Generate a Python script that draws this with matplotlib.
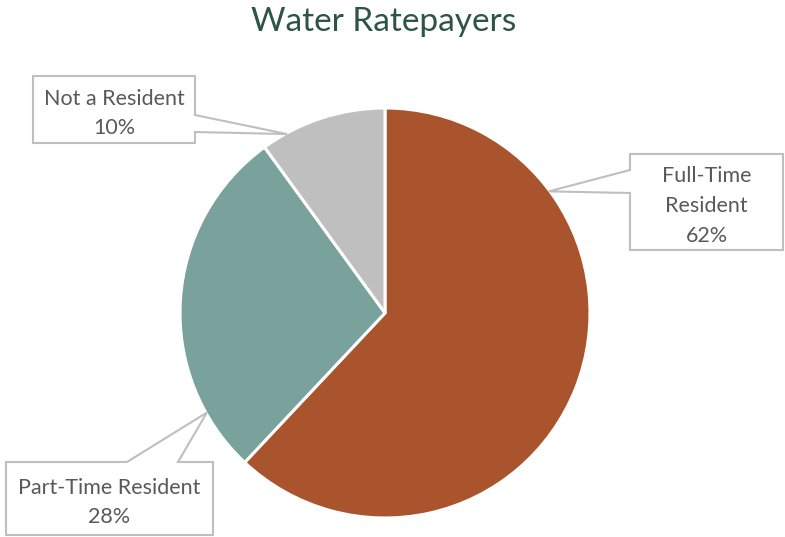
import numpy as np
import matplotlib
matplotlib.use("Agg")
import matplotlib.pyplot as plt
from matplotlib.patches import Polygon

plt.rcParams['font.family'] = ['Lato', 'DejaVu Sans']

# Data
categories = ["Full-Time\nResident", "Part-Time Resident", "Not a Resident"]
values = [62, 28, 10]
colors = ["#A9542D", "#79A29C", "#BFBFBF"]
title = "Water Ratepayers"

W, H = 785, 537
fig = plt.figure(figsize=(W / 100, H / 100), dpi=100)
ax = fig.add_axes([0, 0, 1, 1])

cx, cy, R = 385, H - 313, 205
wedges, _ = ax.pie(values, colors=colors, startangle=90, counterclock=False,
                   center=(cx, cy), radius=R, frame=True,
                   wedgeprops=dict(edgecolor="white", linewidth=2.2))
ax.set_xlim(0, W)
ax.set_ylim(0, H)
ax.set_aspect("equal")
ax.axis("off")

text_color = "#595959"
border = "#BFBFBF"

# callout layout: (box x0, y0 top, x1, y1 bottom) in top-down pixels,
# pointer side, pointer base span along that side, anchor angle on the rim
callouts = [
    dict(box=(630, 154, 783, 250), side="left", base=(170, 193), angle=36.6),
    dict(box=(6, 462, 213, 535), side="top", base=(127, 178), angle=209.2),
    dict(box=(33, 76, 195, 143), side="right", base=(115, 132), angle=118.7),
]


def yup(y):
    return H - y


for cat, val, co in zip(categories, values, callouts):
    x0, y0, x1, y1 = co["box"]
    a = np.deg2rad(co["angle"])
    tip = (cx + (R - 1) * np.cos(a), cy + (R - 1) * np.sin(a))
    b0, b1 = co["base"]
    if co["side"] == "left":
        pts = [(x0, yup(y0)), (x1, yup(y0)), (x1, yup(y1)), (x0, yup(y1)),
               (x0, yup(b1)), tip, (x0, yup(b0))]
    elif co["side"] == "right":
        pts = [(x0, yup(y0)), (x1, yup(y0)), (x1, yup(b0)), tip,
               (x1, yup(b1)), (x1, yup(y1)), (x0, yup(y1))]
    else:  # top
        pts = [(x0, yup(y0)), (b0, yup(y0)), tip, (b1, yup(y0)),
               (x1, yup(y0)), (x1, yup(y1)), (x0, yup(y1))]
    ax.add_patch(Polygon(pts, closed=True, facecolor="white",
                         edgecolor=border, linewidth=1.5, zorder=5))
    ax.text((x0 + x1) / 2, yup((y0 + y1) / 2 + 4), f"{cat}\n{val}%",
            ha="center", va="center", fontsize=15.5, color=text_color,
            linespacing=1.6, zorder=6)

ax.text(W / 2 - 9, yup(22), title, ha="center", va="center",
        fontsize=24, color="#2D5447")

fig.savefig("out.png", dpi=100)
